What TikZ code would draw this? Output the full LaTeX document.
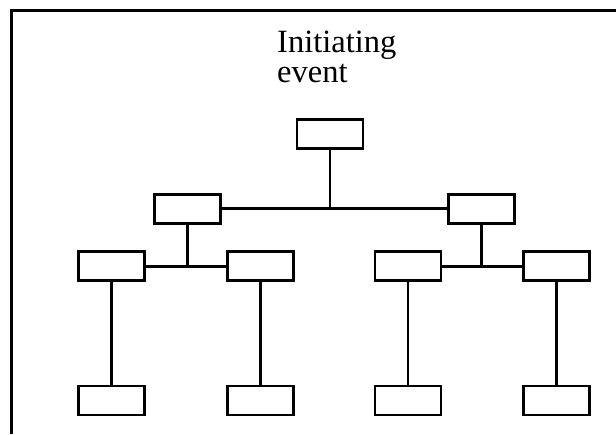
\documentclass[tikz,border=0pt]{standalone}
\usepackage{fontspec}
\setmainfont{Liberation Serif}
\usepackage{tikz}
\usetikzlibrary{positioning}

\begin{document}
\begin{tikzpicture}[x=1pt, y=-1pt,
  evt/.style={draw, line width=2.9pt, minimum width=66pt, minimum height=29pt, inner sep=0pt},
  link/.style={line width=2.8pt},
  frame/.style={line width=2.5pt}]
\useasboundingbox (0,0) rectangle (616,434);
\draw[frame] (11.5,434) -- (11.5,10.5) -- (616,10.5);
\node[anchor=base west, align=left, inner sep=0pt, font=\fontsize{32.5}{29.5}\selectfont] (lbl) at (277,82.3) {Initiating\\event};
% tree of boxes
\node[evt] (top) at (330,134.2) {};
\node[evt] (mL) at (187.5,208.8) {};
\node[evt] (mR) at (481.5,208.8) {};
\node[evt] (a1) at (111.3,266.2) {};
\node[evt] (a2) at (260.7,266.2) {};
\node[evt] (a3) at (408,266.2) {};
\node[evt] (a4) at (556.5,266.2) {};
\node[evt] (b1) at (111.3,400.5) {};
\node[evt] (b2) at (260.7,400.5) {};
\node[evt] (b3) at (408,400.5) {};
\node[evt] (b4) at (556.5,400.5) {};
\draw[link] (mL) -- (mR); \draw[link] (top) -- (top |- mL);
\draw[link] (a1) -- (a2); \draw[link] (mL) -- (mL |- a1);
\draw[link] (a3) -- (a4); \draw[link] (mR) -- (mR |- a3);
\draw[link] (a1) -- (b1); \draw[link] (a2) -- (b2);
\draw[link] (a3) -- (b3); \draw[link] (a4) -- (b4);
\end{tikzpicture}
\end{document}
